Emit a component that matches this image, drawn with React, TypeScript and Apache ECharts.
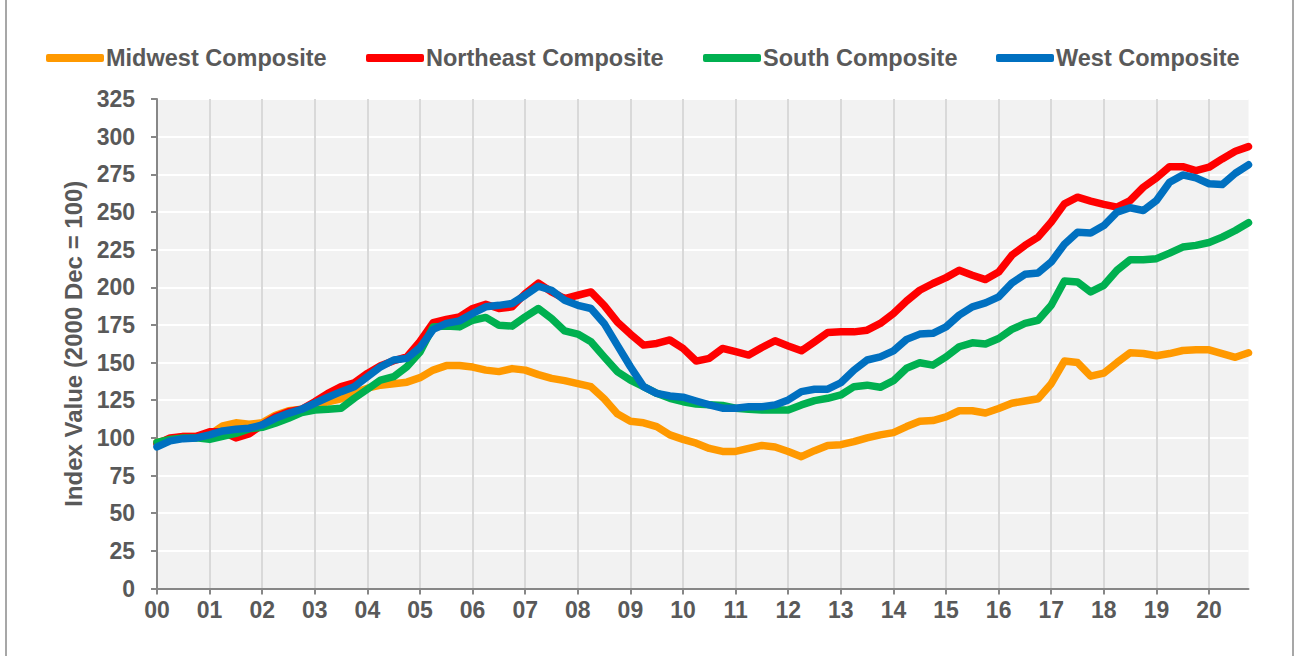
import React, { useEffect, useRef } from "react";
import * as echarts from "echarts";

const years = ["00","01","02","03","04","05","06","07","08","09","10","11","12","13","14","15","16","17","18","19","20"];
const quarters = ["Q1","Q2","Q3","Q4"];
const categories = years.flatMap((y) => quarters.map((q) => `${y} ${q}`));

const seriesNames = ["Midwest Composite","Northeast Composite","South Composite","West Composite"];
const seriesColors = ["#FF9900","#FF0000","#00B050","#0070C0"];

const midwest = [97,99,101,101,102,108,110,109,110,115,118,119,121,124,126,130,133,135,136,137,140,145,148,148,147,145,144,146,145,142,139.5,138,136,134,126,116,111,110,107.5,102,99,96.5,93,91,91,93,95,94,91,87.5,91.5,95,95.5,97.5,100,102,103.5,107.5,111,111.5,114,118,118,116.5,119.5,123,124.5,126,136,151,150,141,143,150,156.5,156,154.5,156,158,158.5,158.5,156,153.5,156.5];
const northeast = [96,100,101,101,104,104,100,102.6,108.6,114,117.4,119,124,129.6,134,136.6,142.8,147.9,151.2,153.8,164,176.5,178.6,180.3,185.9,188.7,185.9,187,195.8,202.8,196.9,192.5,194.7,196.9,188,177,168.9,161.6,162.7,165,159.4,151,152.8,159.4,157.2,155,160,164.5,161,157.8,163.8,170,170.4,170.4,171.5,176,182.6,190.9,198,202.5,206.4,211.3,208,205.1,210.1,221.2,227.8,233.3,243.3,255.4,259.8,257.2,255,253.2,257.6,266.4,272.6,280.1,280.1,277.5,279.7,285.2,290.3,293.4];
const south = [97,99,100,100,99,101,103,106,107,109.7,113,116.8,118.5,119,119.7,126.3,132.3,138.4,140.6,147.2,157,173.7,174.2,173.7,178.1,180,174.8,174.2,180.3,185.9,179.3,171,168.9,163.8,153.8,144,138.4,134,129.6,126.3,124,122.5,122,121.5,119.7,119,118.5,118.5,118.5,121.9,124.7,126.3,128.5,134,135,133.6,138,146.2,149.9,148.3,153.8,160.5,163.1,162.3,166,172,176,178.1,188,204.2,203.5,196.9,201.3,211.3,218.3,218.3,219,222.7,226.7,227.8,229.7,233.3,237.7,242.9];
const west = [94,98,99.5,100,102,104.6,105.7,106.4,108.6,113,116.3,119,123,127,130.7,134,140.6,147.2,151.7,152.8,160,172,176,177.7,182.6,187,188,189.2,194.7,200.7,198,191.4,188,185.9,176,161.6,147.2,134,129.6,127.8,127,124.5,121.9,119.7,119.7,120.7,120.7,121.9,125.2,130.7,132.3,132.3,136.6,145,151.7,153.8,157.8,165.4,168.9,169.4,173.7,181.5,187,189.6,193.6,202.8,208.6,209.5,216.8,228.5,236.6,236,241,249.9,252.8,251,257.6,269.7,274.6,272.6,268.7,268.2,275.7,281.3];
const seriesValues = [midwest, northeast, south, west];

const yTitle = "Index Value (2000 Dec = 100)";
const legendLefts = [46, 366, 703, 996];

const FONT = "'Liberation Sans', Arial, sans-serif";
const TEXT = "#595959";

export default function App() {
  const ref = useRef<HTMLDivElement>(null);
  useEffect(() => {
    if (!ref.current) return;
    const chart = echarts.init(ref.current, undefined, { renderer: "svg" });
    chart.setOption({
      animation: false,
      backgroundColor: "#ffffff",
      textStyle: { fontFamily: FONT },
      legend: seriesNames.map((n, i) => ({
        data: [{ name: n, icon: "roundRect" }],
        left: legendLefts[i],
        top: 46,
        itemWidth: 58,
        itemHeight: 8,
        itemGap: 0,
        padding: 0,
        selectedMode: false,
        textStyle: { fontSize: 23.5, fontWeight: "bold", color: TEXT, fontFamily: FONT, padding: [0, 0, 0, -3] },
      })),
      grid: {
        left: 157,
        right: 46.5,
        top: 99,
        bottom: 67.5,
        show: true,
        backgroundColor: "#F2F2F2",
        borderWidth: 0,
      },
      xAxis: {
        type: "category",
        data: categories,
        boundaryGap: false,
        axisLine: { show: true, lineStyle: { color: "#878787", width: 2 } },
        axisTick: { show: true, interval: 3, length: 6, lineStyle: { color: "#878787", width: 2 } },
        axisLabel: {
          interval: 3,
          formatter: (v: string) => v.slice(0, 2),
          fontSize: 23,
          fontWeight: "bold",
          color: TEXT,
          fontFamily: FONT,
          margin: 10,
        },
        splitLine: { show: true, interval: 3, lineStyle: { color: "#D9D9D9", width: 2 } },
      },
      yAxis: {
        type: "value",
        min: 0,
        max: 325,
        interval: 25,
        name: yTitle,
        nameLocation: "middle",
        nameGap: 67,
        nameTextStyle: { fontSize: 24, fontWeight: "bold", color: TEXT, fontFamily: FONT },
        axisLine: { show: true, lineStyle: { color: "#878787", width: 2 } },
        axisTick: { show: true, length: 6, lineStyle: { color: "#878787", width: 2 } },
        axisLabel: { fontSize: 23, fontWeight: "bold", color: TEXT, fontFamily: FONT, margin: 22 },
        splitLine: { show: true, lineStyle: { color: "#FFFFFF", width: 2 } },
      },
      graphic: [
        { type: "line", shape: { x1: 6, y1: 0, x2: 6, y2: 656 }, style: { stroke: "#8a8a8a", lineWidth: 1.5 } },
        { type: "line", shape: { x1: 1293, y1: 0, x2: 1293, y2: 656 }, style: { stroke: "#8a8a8a", lineWidth: 1.5 } },
      ],
      series: seriesNames.map((n, i) => ({
        name: n,
        type: "line",
        data: seriesValues[i],
        symbol: "none",
        color: seriesColors[i],
        lineStyle: { width: 7.5, color: seriesColors[i], cap: "round", join: "round" },
        z: 2 + i,
      })),
    });
    return () => chart.dispose();
  }, []);
  return <div ref={ref} style={{ position: "fixed", left: 0, top: 0, width: 1295, height: 656 }} />;
}
